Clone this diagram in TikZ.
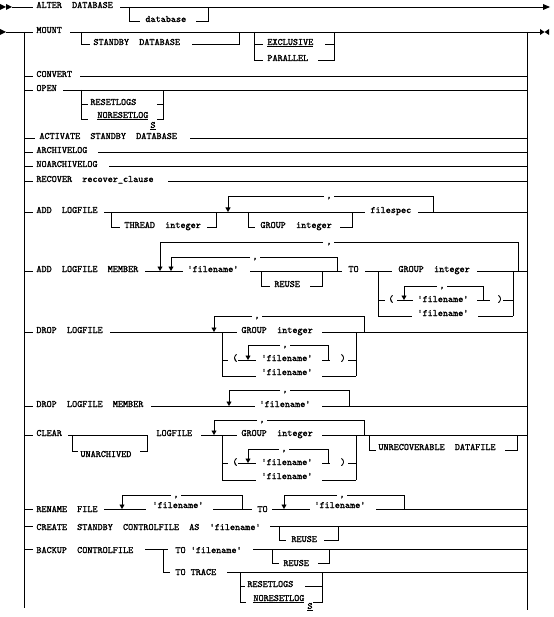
\documentclass[tikz,border=0pt]{standalone}
\usepackage{fontspec}
\usetikzlibrary{arrows.meta}
\newfontfamily\rrfam{lmmono10-regular.otf}[FakeBold=1.6]
\newcommand{\rrfont}{\fontsize{9.7}{10}\selectfont\rrfam}
\begin{document}
\begin{tikzpicture}[x=1pt,y=-1pt,line width=0.9pt,
  txt/.style={anchor=base west,inner sep=0pt,font=\rrfont},
  commanode/.style={anchor=base,inner sep=0pt,font=\rrfont},
  dn/.style={-{Triangle[width=5pt,length=4.5pt]}},
  tip/.style={fill=black,draw=none}]
\useasboundingbox (0,0) rectangle (553,617);
% ---------------- row ALTER DATABASE
\fill[tip] (0,4) -- (6,7) -- (0,10) -- cycle;
\fill[tip] (6,4) -- (12,7) -- (6,10) -- cycle;
\draw (12,7) -- (33,7);
\node[txt] (alter) at (36,8) {ALTER\ \ DATABASE};
\draw (120,7) -- (544,7);
\fill[tip] (543,4) -- (550,7) -- (543,10) -- cycle;
\draw (129,7) |- (140,21);
\node[txt] (db) at (145,22) {database};
\draw (196,21) -| (208,7);
% ---------------- rails
\fill[tip] (0,29) -- (6,32) -- (0,35) -- cycle;
\draw (6,32) -- (33,32);
\draw (24,32) -- (24,608);
\draw (527,32) -- (527,610);
% ---------------- MOUNT
\node[txt] (mount) at (36,33) {MOUNT};
\draw (70,32) -- (541,32);
\fill[tip] (540,29) -- (544.5,32) -- (540,35) -- cycle;
\fill[tip] (549,29) -- (544.5,32) -- (549,35) -- cycle;
\draw (81,32) |- (90,44);
\node[txt] (sbdb) at (93,45) {STANDBY\ \ DATABASE};
\draw (192,44) -| (239,32);
\draw (254,32) |- (263,60);
\draw (254,44) -- (263,44);
\node[txt] (excl) at (267,45) {\underline{EXCLUSIVE}};
\node[txt] (para) at (267,61) {PARALLEL};
\draw (325,44) -- (334,44);
\draw (318,60) -| (334,32);
% ---------------- CONVERT
\draw (24,76) -- (33,76);
\node[txt] (conv) at (36,77) {CONVERT};
\draw (80,76) -- (527,76);
% ---------------- OPEN
\draw (24,90) -- (33,90);
\node[txt] (open) at (36,91) {OPEN};
\draw (63,90) -- (527,90);
\draw (81,90) |- (88,119);
\draw (81,104) -- (88,104);
\node[txt] (rl1) at (90,105) {RESETLOGS};
\node[txt] (nrl1) at (97,118) {\underline{NORESETLOG}};
\node[txt] (s1) at (150,128) {\underline{S}};
\draw (157,104) -- (163,104);
\draw (157,119) -| (163,90);
% ---------------- ACTIVATE
\draw (24,138) -- (35,138);
\node[txt] (act) at (39,139) {ACTIVATE\ \ STANDBY\ \ DATABASE};
\draw (190,138) -- (527,138);
% ---------------- ARCHIVELOG
\draw (24,152) -- (33,152);
\node[txt] (arch) at (36,153) {ARCHIVELOG};
\draw (98,152) -- (527,152);
\draw (24,166) -- (33,166);
\node[txt] (noarch) at (36,167) {NOARCHIVELOG};
\draw (109,166) -- (527,166);
% ---------------- RECOVER
\draw (24,181) -- (33,181);
\node[txt] (rec) at (36,182) {RECOVER\ \ recover\_clause};
\draw (168,181) -- (527,181);
% ---------------- ADD LOGFILE
\draw (24,212) -- (33,212);
\node[txt] (addlf) at (36,213) {ADD\ \ LOGFILE};
\draw (104,212) -- (365,212);
\node[txt] (fspec) at (370,213) {filespec};
\draw (418,212) -- (527,212);
\draw (111,212) |- (120,227);
\node[txt] (thr) at (124,228) {THREAD\ \ integer};
\draw (207,227) -| (216,212);
\draw (248,212) |- (255,227);
\node[txt] (grp1) at (260,228) {GROUP\ \ integer};
\draw (340,227) -| (352,212);
\draw (433,212) |- (334,196);
\node[commanode] (c1) at (329,198) {,};
\draw[dn] (324,196) -| (228,212);
% ---------------- ADD LOGFILE MEMBER
\draw (24,271) -- (33,271);
\node[txt] (addm) at (36,272) {ADD\ \ LOGFILE\ \ MEMBER};
\draw (145,271) -- (183,271);
\node[txt] (fn1) at (187,272) {'filename'};
\draw (250,271) -- (342,271);
\node[txt] (to1) at (348,272) {TO};
\draw (365,271) -- (392,271);
\node[txt] (grp2) at (398,272) {GROUP\ \ integer};
\draw (477,271) -- (527,271);
\draw (518,271) |- (334,242);
\node[commanode] (c2) at (329,244) {,};
\draw[dn] (323,242) -| (160,271);
\draw (337,271) |- (260,257);
\node[commanode] (c3) at (255,259) {,};
\draw[dn] (250,257) -| (171,271);
\draw (261,271) |- (270,286);
\node[txt] (reuse1) at (274,287) {REUSE};
\draw (310,286) -| (322,271);
\draw (378,271) -- (378,316);
\draw (513,271) -- (513,316);
\draw (378,300) -- (385,300);
\node[txt] (lp1) at (388,302) {(};
\draw (397,300) -- (413,300);
\draw[dn] (437,286) -| (404,300);
\node[commanode] (c4) at (442,288) {,};
\draw (447,286) -| (483,300);
\node[txt] (fn2) at (417,302) {'filename'};
\draw (477,300) -- (490,300);
\node[txt] (rp1) at (497,302) {)};
\draw (503,300) -- (513,300);
\draw (378,316) -- (412,316);
\node[txt] (fn3) at (417,316) {'filename'};
\draw (478,316) -- (513,316);
% ---------------- DROP LOGFILE
\draw (24,332) -- (33,332);
\node[txt] (droplf) at (36,333) {DROP\ \ LOGFILE};
\draw (110,332) -- (237,332);
\node[txt] (grp3) at (241,333) {GROUP\ \ integer};
\draw (322,332) -- (527,332);
\draw (364,332) |- (262,316);
\node[commanode] (c5) at (257,318) {,};
\draw[dn] (252,316) -| (214,332);
\draw (222,332) -- (222,376);
\draw (356,332) -- (356,376);
\draw (222,360) -- (228,360);
\node[txt] (lp2) at (232,361) {(};
\draw (238,360) -- (256,360);
\draw[dn] (280,345) -| (248,360);
\node[commanode] (c6) at (285,347) {,};
\draw (290,345) -| (328,360);
\node[txt] (fn4) at (261,361) {'filename'};
\draw (322,360) -- (330,360);
\node[txt] (rp2) at (340,361) {)};
\draw (348,360) -- (356,360);
\draw (222,376) -- (256,376);
\node[txt] (fn5) at (261,375) {'filename'};
\draw (322,376) -- (356,376);
% ---------------- DROP LOGFILE MEMBER
\draw (24,406) -- (33,406);
\node[txt] (dropm) at (36,407) {DROP\ \ LOGFILE\ \ MEMBER};
\draw (151,406) -- (255,406);
\node[txt] (fn6) at (259,407) {'filename'};
\draw (322,406) -- (527,406);
\draw (349,406) |- (290,390);
\node[commanode] (c7) at (285,392) {,};
\draw[dn] (280,390) -| (229,406);
% ---------------- CLEAR
\draw (24,435) -- (33,435);
\node[txt] (clear) at (36,436) {CLEAR};
\draw (68,435) -- (148,435);
\draw (72,435) |- (78,451);
\node[txt] (unarch) at (80,457) {UNARCHIVED};
\draw (140,451) -| (147,435);
\node[txt] (lf) at (156,436) {LOGFILE};
\draw (201,435) -- (237,435);
\node[txt] (grp4) at (241,436) {GROUP\ \ integer};
\draw (322,435) -- (527,435);
\draw (364,435) |- (267,420);
\node[commanode] (c8) at (262,422) {,};
\draw[dn] (257,420) -| (214,435);
\draw (222,435) -- (222,480);
\draw (356,435) -- (356,480);
\draw (222,463) -- (228,463);
\node[txt] (lp3) at (232,465) {(};
\draw (238,463) -- (256,463);
\draw[dn] (279,449) -| (248,463);
\node[commanode] (c9) at (284,451) {,};
\draw (289,449) -| (328,463);
\node[txt] (fn7) at (261,465) {'filename'};
\draw (322,463) -- (330,463);
\node[txt] (rp3) at (340,465) {)};
\draw (348,463) -- (356,463);
\draw (222,480) -- (256,480);
\node[txt] (fn8) at (261,479) {'filename'};
\draw (322,480) -- (356,480);
\draw (369,435) |- (376,450);
\node[txt] (unrec) at (378,450) {UNRECOVERABLE\ \ DATAFILE};
\draw (505,450) -| (517,435);
% ---------------- RENAME FILE
\draw (24,509) -- (33,509);
\node[txt] (ren) at (36,512) {RENAME\ \ FILE};
\draw (104,509) -- (146,509);
\node[txt] (fn9) at (152,508) {'filename'};
\draw (213,509) -- (252,509);
\node[txt] (to2) at (257,512) {TO};
\draw (272,509) -- (310,509);
\node[txt] (fn10) at (314,508) {'filename'};
\draw (376,509) -- (527,509);
\draw (242,509) |- (181,495);
\node[commanode] (c10) at (176,497) {,};
\draw[dn] (171,495) -| (122,509);
\draw (404,509) |- (347,495);
\node[commanode] (c11) at (342,497) {,};
\draw[dn] (337,495) -| (284,509);
% ---------------- CREATE STANDBY CONTROLFILE
\draw (24,526) -- (33,526);
\node[txt] (create) at (36,530) {CREATE\ \ STANDBY\ \ CONTROLFILE\ \ AS\ \ 'filename'};
\draw (270,526) -- (527,526);
\draw (279,526) |- (286,540);
\node[txt] (reuse2) at (291,542) {REUSE};
\draw (324,540) -| (338,526);
% ---------------- BACKUP CONTROLFILE
\draw (24,549) -- (33,549);
\node[txt] (backup) at (36,553) {BACKUP\ \ CONTROLFILE};
\draw (145,549) -- (168,549);
\node[txt] (tofn) at (175,553) {TO 'filename'};
\draw (253,549) -- (527,549);
\draw (272,549) |- (279,563);
\node[txt] (reuse3) at (283,566) {REUSE};
\draw (318,563) -| (329,549);
\draw (163,549) |- (170,572);
\node[txt] (totr) at (175,575) {TO TRACE};
\draw (227,572) -- (527,572);
\draw (240,572) |- (246,602);
\draw (240,586) -- (245,586);
\node[txt] (rl2) at (247,587) {RESETLOGS};
\draw (305,586) -- (322,586);
\node[txt] (nrl2) at (253,601) {\underline{NORESETLOG}};
\draw (313,602) -| (322,572);
\node[txt] (s2) at (307,609) {\underline{S}};
\end{tikzpicture}
\end{document}
